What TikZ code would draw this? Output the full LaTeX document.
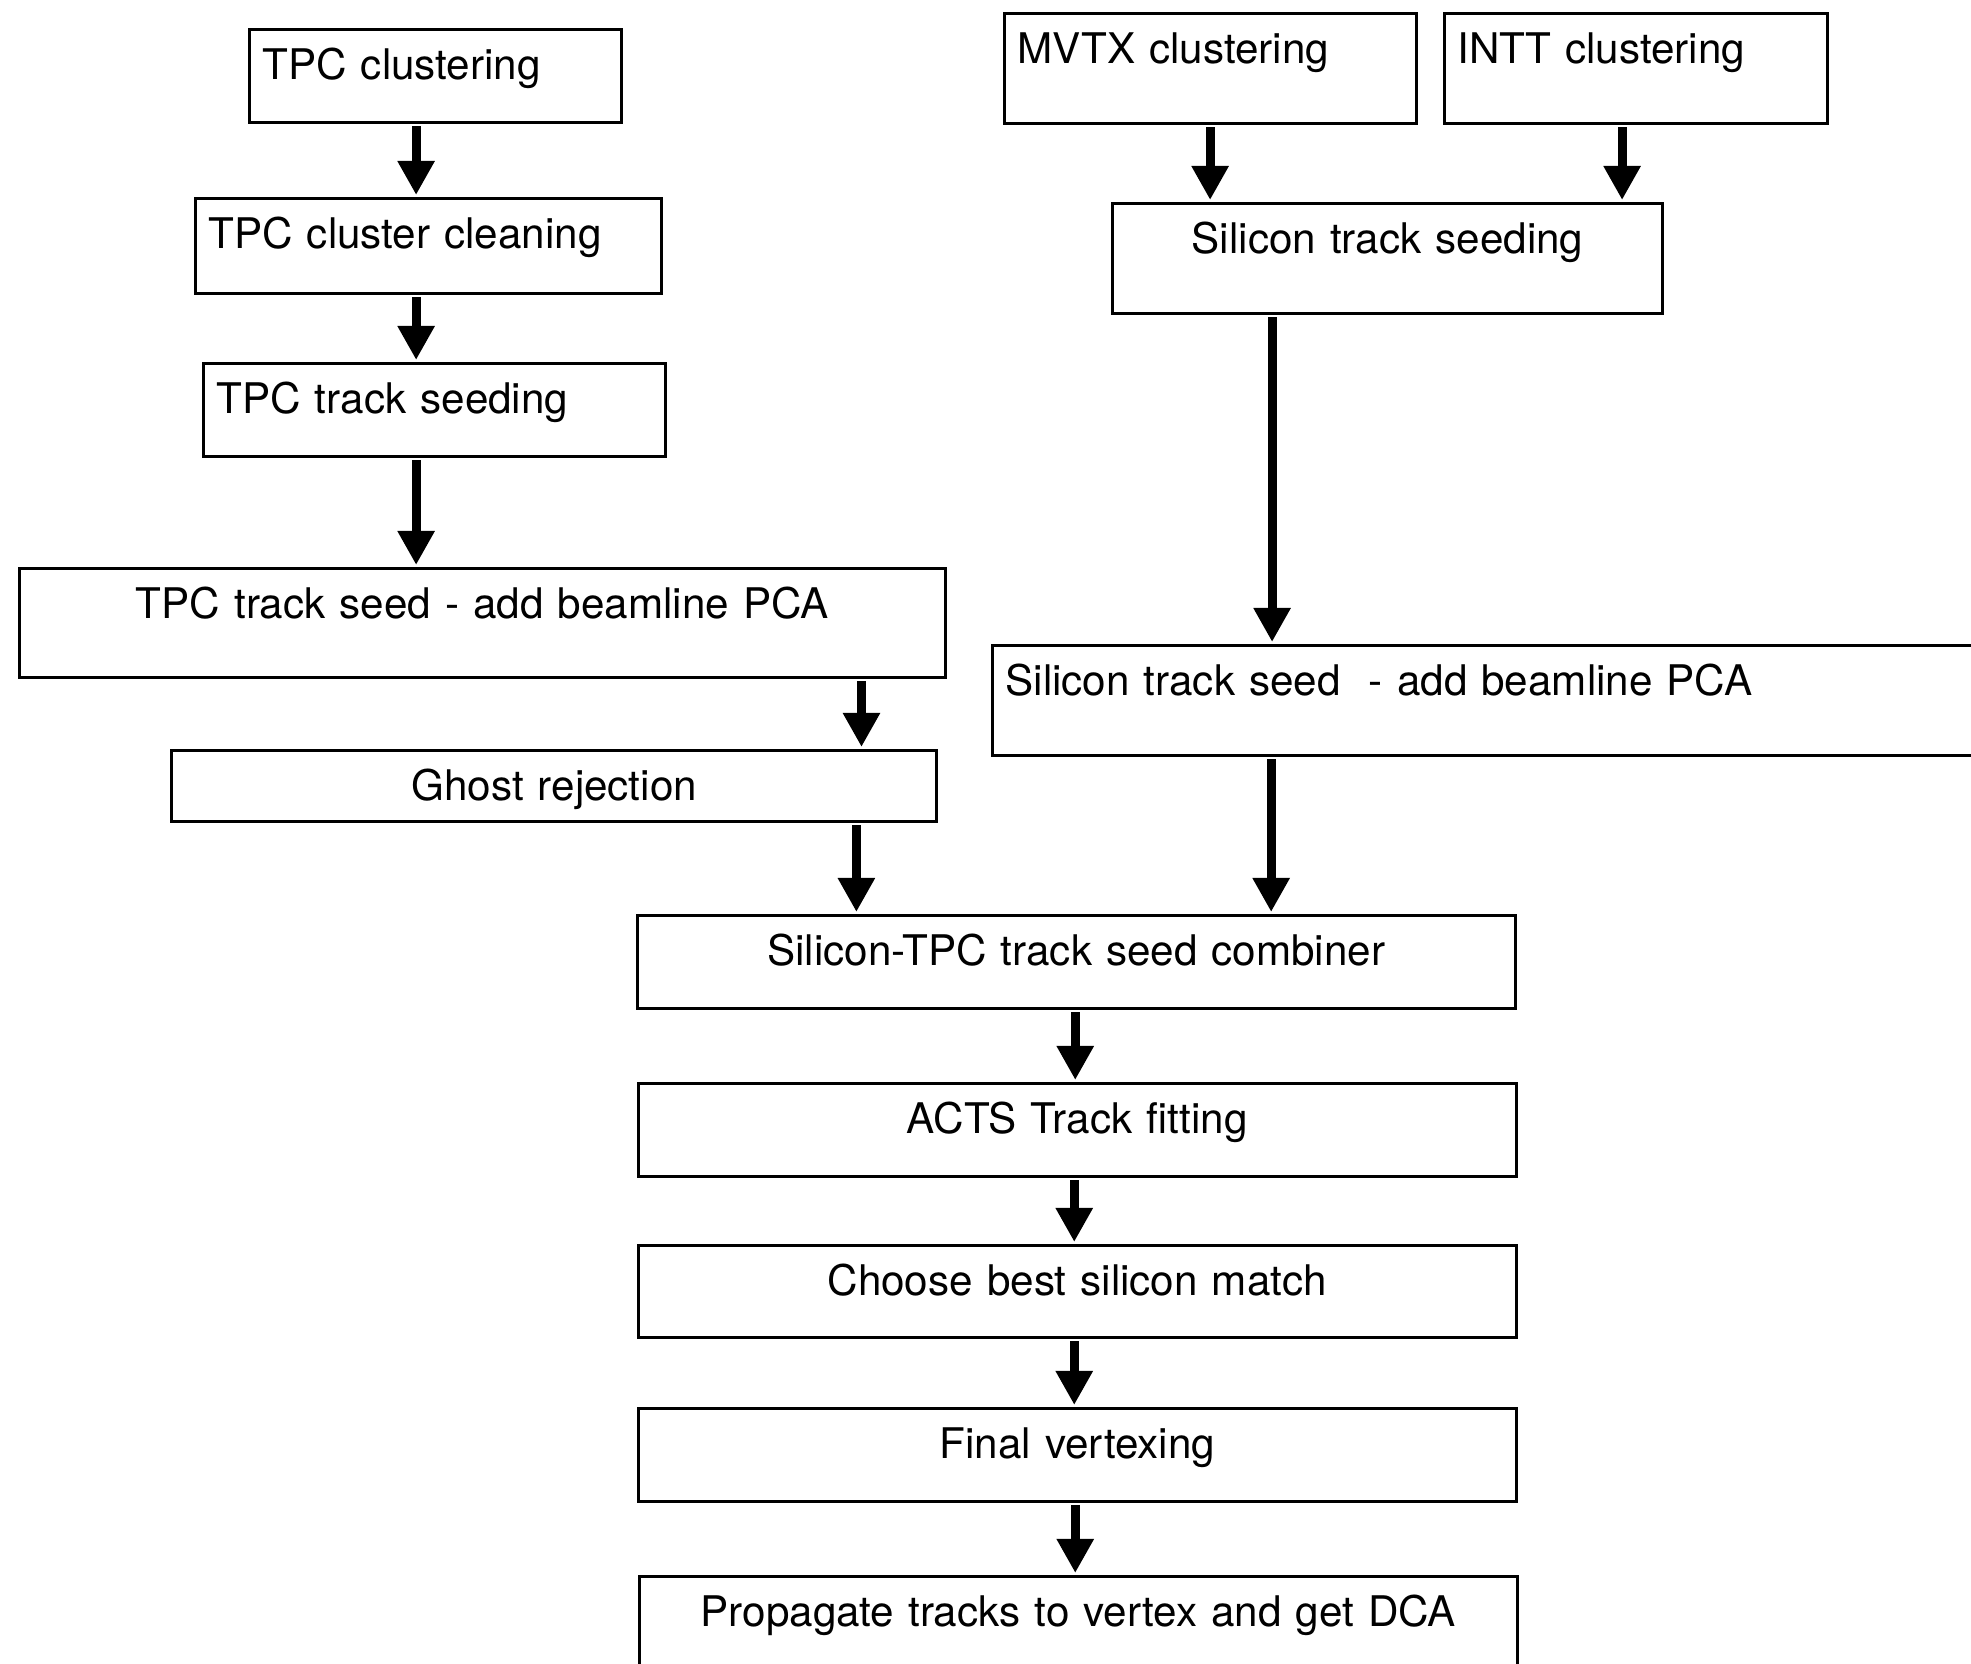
\documentclass[tikz,border=0pt]{standalone}
\usepackage{fontspec}
\setmainfont{TeX Gyre Heros}
\usetikzlibrary{arrows.meta}

\tikzset{
  stage/.style={draw,line width=0.03cm,anchor=north west,inner sep=0pt,text height=0.5cm,font=\fontsize{12}{14}\selectfont},
  lstage/.style={stage,align=left,inner xsep=0.13cm},
  cstage/.style={stage,align=center},
  flow/.style={line width=0.09cm,shorten <=0.02cm,shorten >=0.02cm,-{Triangle[length=0.34cm,width=0.35cm]}}
}

\begin{document}
\begin{tikzpicture}[x=0.01cm,y=-0.01cm]
\clip (0,0) rectangle (1971,1664);
% TPC branch
\node[lstage,text width=3.46cm,text depth=0.43cm] (tpcclu) at (248,28) {TPC clustering};
\node[lstage,text width=4.40cm,text depth=0.45cm] (tpccln) at (194,197) {TPC cluster cleaning};
\node[lstage,text width=4.36cm,text depth=0.43cm] (tpcseed) at (202,362) {TPC track seeding};
\node[cstage,text width=9.25cm,text depth=0.59cm] (tpcpca) at (18,567) {TPC track seed - add beamline PCA};
\node[cstage,text width=7.65cm,text depth=0.21cm] (ghost) at (170,749) {Ghost rejection};
% silicon branch
\node[lstage,text width=3.86cm,text depth=0.60cm] (mvtx) at (1003,12) {MVTX clustering};
\node[lstage,text width=3.57cm,text depth=0.60cm] (intt) at (1443,12) {INTT clustering};
\node[cstage,text width=5.50cm,text depth=0.60cm] (siseed) at (1111,202) {Silicon track seeding};
\node[lstage,text width=9.83cm,text depth=0.60cm] (sipca) at (991,644) {Silicon track seed \ - add beamline PCA};
% combined chain
\node[cstage,text width=8.77cm,text depth=0.43cm] (comb) at (636,914) {Silicon-TPC track seed combiner};
\node[cstage,text width=8.77cm,text depth=0.43cm] (acts) at (637,1082) {ACTS Track fitting};
\node[cstage,text width=8.77cm,text depth=0.42cm] (match) at (637,1244) {Choose best silicon match};
\node[cstage,text width=8.77cm,text depth=0.43cm] (vtx) at (637,1407) {Final vertexing};
\node[cstage,text width=8.77cm,text depth=1.25cm] (dca) at (638,1575) {Propagate tracks to vertex and get DCA};

\draw[flow] ([xshift=1.68cm]tpcclu.south west) -- ([xshift=1.68cm]tpcclu.south west |- tpccln.north);
\draw[flow] ([xshift=2.22cm]tpccln.south west) -- ([xshift=2.22cm]tpccln.south west |- tpcseed.north);
\draw[flow] ([xshift=2.14cm]tpcseed.south west) -- ([xshift=2.14cm]tpcseed.south west |- tpcpca.north);
\draw[flow] ([xshift=8.43cm]tpcpca.south west) -- ([xshift=8.43cm]tpcpca.south west |- ghost.north);
\draw[flow] ([xshift=6.86cm]ghost.south west) -- ([xshift=6.86cm]ghost.south west |- comb.north);
\draw[flow] ([xshift=2.07cm]mvtx.south west) -- ([xshift=2.07cm]mvtx.south west |- siseed.north);
\draw[flow] ([xshift=1.79cm]intt.south west) -- ([xshift=1.79cm]intt.south west |- siseed.north);
\draw[flow] ([xshift=1.61cm]siseed.south west) -- ([xshift=1.61cm]siseed.south west |- sipca.north);
\draw[flow] ([xshift=2.80cm]sipca.south west) -- ([xshift=2.80cm]sipca.south west |- comb.north);
\draw[flow] ([xshift=4.39cm]comb.south west) -- ([xshift=4.39cm]comb.south west |- acts.north);
\draw[flow] ([xshift=4.37cm]acts.south west) -- ([xshift=4.37cm]acts.south west |- match.north);
\draw[flow] ([xshift=4.37cm]match.south west) -- ([xshift=4.37cm]match.south west |- vtx.north);
\draw[flow] ([xshift=4.38cm]vtx.south west) -- ([xshift=4.38cm]vtx.south west |- dca.north);
\end{tikzpicture}
\end{document}
